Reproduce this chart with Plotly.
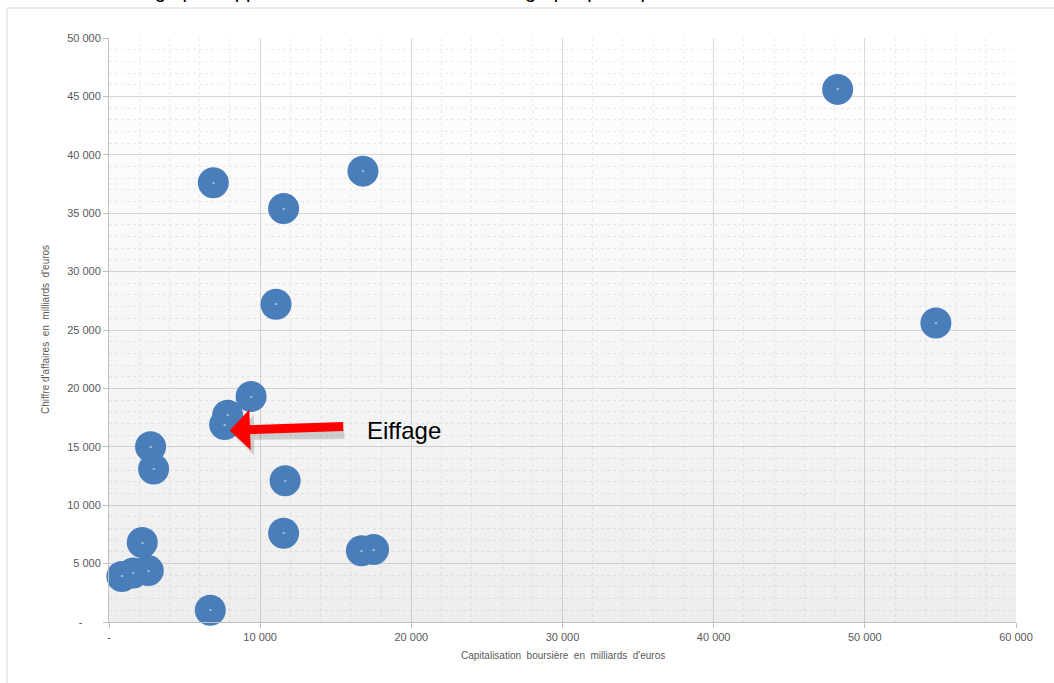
import plotly.graph_objects as go

# Capitalisation boursière (milliards d'euros)
capitalisation = [48200, 54700, 6900, 16800, 11550, 11050, 9400, 7850, 7650,
                  2750, 2950, 11650, 11550, 2200, 850, 1600, 2600, 6700, 16700, 17500]
# Chiffre d'affaires (milliards d'euros)
chiffre_affaires = [45600, 25600, 37600, 38600, 35400, 27200, 19300, 17700, 16900,
                    15000, 13100, 12100, 7600, 6800, 3900, 4200, 4400, 1000, 6100, 6200]

x_tickvals = [0, 10000, 20000, 30000, 40000, 50000, 60000]
x_ticktext = ["-", "10 000", "20 000", "30 000", "40 000", "50 000", "60 000"]
y_tickvals = [0, 5000, 10000, 15000, 20000, 25000, 30000, 35000, 40000, 45000, 50000]
y_ticktext = ["-      ", "5 000", "10 000", "15 000", "20 000", "25 000", "30 000",
              "35 000", "40 000", "45 000", "50 000"]

X_RANGE = [0, 60000]
Y_RANGE = [0, 50000]

highlight_x, highlight_y = 7990, 16400
highlight_label = "Eiffage"

fig = go.Figure()

# soft vertical gradient behind the points
fig.add_trace(go.Scatter(
    x=[X_RANGE[0], X_RANGE[1], X_RANGE[1], X_RANGE[0], X_RANGE[0]],
    y=[Y_RANGE[0], Y_RANGE[0], Y_RANGE[1], Y_RANGE[1], Y_RANGE[0]],
    fill="toself", mode="lines", line=dict(width=0),
    fillgradient=dict(type="vertical",
                      colorscale=[[0, "rgba(120,120,120,0.13)"], [1, "rgba(120,120,120,0.0)"]]),
    hoverinfo="skip", showlegend=False))

fig.add_trace(go.Scatter(
    x=capitalisation, y=chiffre_affaires, mode="markers+text",
    marker=dict(size=31, color="#4a7ebb", line=dict(width=0)),
    text=["o" for _ in capitalisation], textposition="middle center",
    textfont=dict(size=4, color="white"),
    cliponaxis=False, showlegend=False))

gray = "#595959"
fig.update_layout(
    width=1054, height=683,
    margin=dict(l=109, r=38, t=38, b=61),
    paper_bgcolor="white", plot_bgcolor="white",
    font=dict(family="Liberation Sans, Arial, sans-serif", color=gray),
    xaxis=dict(range=X_RANGE, tickvals=x_tickvals, ticktext=x_ticktext,
               tickfont=dict(size=11, color=gray),
               showgrid=True, gridcolor="#d9d9d9", gridwidth=1,
               showline=True, linecolor="#bfbfbf", linewidth=1,
               ticks="outside", ticklen=5, tickcolor="#bfbfbf",
               zeroline=False,
               minor=dict(dtick=2000, tick0=0, showgrid=True, gridcolor="#ececec",
                          griddash="dot", gridwidth=1)),
    yaxis=dict(range=Y_RANGE, tickvals=y_tickvals, ticktext=y_ticktext,
               tickfont=dict(size=11, color=gray),
               showgrid=True, gridcolor="#d9d9d9", gridwidth=1,
               showline=True, linecolor="#bfbfbf", linewidth=1,
               ticks="outside", ticklen=5, tickcolor="#bfbfbf",
               zeroline=False,
               minor=dict(dtick=1000, tick0=0, showgrid=True, gridcolor="#ececec",
                          griddash="dot", gridwidth=1)),
)

# outer frame of the chart
fig.add_shape(type="rect", xref="paper", yref="paper",
              x0=-102/907, x1=1.06, y0=-0.2, y1=1 + 30/584,
              line=dict(color="#d9d9d9", width=1), layer="below")

# axis titles
fig.add_annotation(text="Capitalisation  boursière  en  milliards  d'euros",
                   xref="paper", yref="paper", x=0.5, y=-33/584, yanchor="middle",
                   showarrow=False, font=dict(size=10, color=gray))
fig.add_annotation(text="Chiffre d'affaires  en  milliards  d'euros",
                   xref="paper", yref="paper", x=-64/907, y=0.5, textangle=-90,
                   xanchor="center", showarrow=False, font=dict(size=10, color=gray))

# clipped heading line above the frame (as in the original capture)
fig.add_annotation(text="Voici où se situe Eiffage par rapport aux autres sociétés sur un graphique capitalisation / chiffre d'affaires des autres sociétés",
                   xref="paper", yref="paper", x=0.45, y=1 + 34/584, yanchor="bottom",
                   showarrow=False, font=dict(size=20, color="black"))

# arrow shadow
fig.add_annotation(x=highlight_x, y=highlight_y, xref="x", yref="y", text="",
                   showarrow=True, axref="pixel", ayref="pixel", ax=112, ay=-1,
                   xshift=4, yshift=-5,
                   arrowhead=1, arrowsize=0.75, arrowwidth=9,
                   arrowcolor="rgba(0,0,0,0.15)")
# arrow
fig.add_annotation(x=highlight_x, y=highlight_y, xref="x", yref="y", text="",
                   showarrow=True, axref="pixel", ayref="pixel", ax=115, ay=-4,
                   arrowhead=1, arrowsize=0.75, arrowwidth=9, arrowcolor="#ff0000")
fig.add_annotation(x=16950, y=highlight_y, xref="x", yref="y", text=highlight_label,
                   xanchor="left", yanchor="middle", showarrow=False,
                   font=dict(size=24, color="black", family="Liberation Sans, Arial"))

fig.write_html("out.html")
